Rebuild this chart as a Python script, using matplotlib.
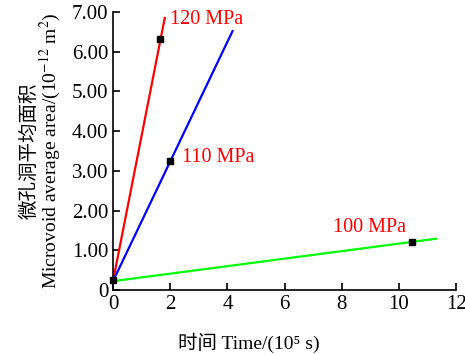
import matplotlib.pyplot as plt

# time in 1e5 s, area in 1e-12 m^2
fit_120_x = [0.0, 1.81]
fit_120_y = [0.22, 6.85]
fit_110_x = [0.0, 4.18]
fit_110_y = [0.22, 6.52]
fit_100_x = [0.0, 11.3]
fit_100_y = [0.22, 1.29]

pts_x = [0.0, 1.64, 1.99, 10.45]
pts_y = [0.25, 6.32, 3.25, 1.21]

fam = ['Liberation Serif', 'Noto Sans CJK SC']
plt.rcParams['font.family'] = fam
plt.rcParams['mathtext.fontset'] = 'stix'

fig = plt.figure(figsize=(4.65, 3.54), dpi=100)
ax = fig.add_axes([0.243, 0.181, 0.738, 0.785])

ax.plot(fit_120_x, fit_120_y, color='#ff0000', lw=1.6)
ax.plot(fit_110_x, fit_110_y, color='#0000ff', lw=1.6)
ax.plot(fit_100_x, fit_100_y, color='#00ff00', lw=1.6)
ax.plot(pts_x, pts_y, ls='none', marker='s', color='black', ms=5, clip_on=False, zorder=5)

ax.text(2.0, 6.82, '120 MPa', color='red', fontsize=14.5, va='center')
ax.text(2.4, 3.33, '110 MPa', color='red', fontsize=14.5, va='center')
ax.text(7.7, 1.56, '100 MPa', color='red', fontsize=14.5, va='center')

ax.set_xlim(0, 12)
ax.set_ylim(0, 7)
ax.set_xticks([0, 2, 4, 6, 8, 10, 12])
ax.set_yticks(range(8))
ax.set_yticklabels(['0', '1.00', '2.00', '3.00', '4.00', '5.00', '6.00', '7.00'])
ax.tick_params(direction='in', labelsize=15, length=5, width=1.2)
ax.spines['top'].set_visible(False)
ax.spines['right'].set_visible(False)
for s in ['left', 'bottom']:
    ax.spines[s].set_linewidth(1.2)

ax.set_xlabel('时间 Time/(10⁵ s)', fontsize=14)
ax.xaxis.set_label_coords(0.397, -0.155)
ax.set_ylabel('微孔洞平均面积\nMicrovoid average area/(10$^{-12}$ m$^2$)', fontsize=14,
              linespacing=1.0, labelpad=6)

fig.savefig('out.png', dpi=100)
